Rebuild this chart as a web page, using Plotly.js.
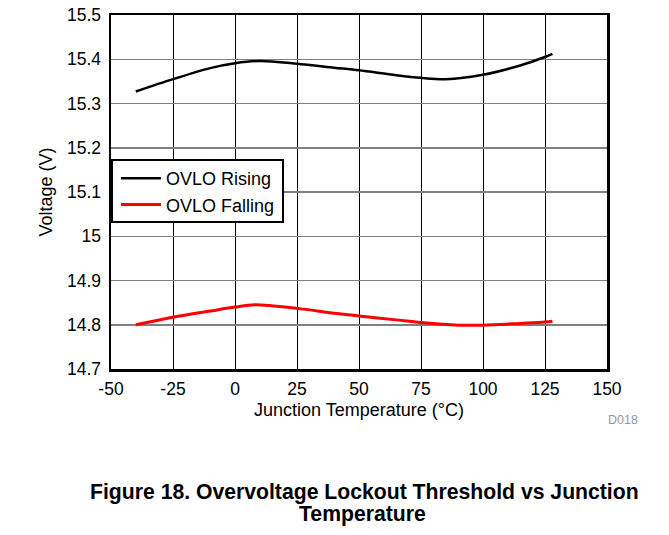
<!DOCTYPE html>
<html>
<head>
<meta charset="utf-8">
<script src="https://cdn.plot.ly/plotly-3.0.1.min.js"></script>
<style>html,body{margin:0;padding:0;background:#fff;}#chart{width:669px;height:535px;}</style>
</head>
<body>
<div id="chart"></div>
<script>
// Data
const tempRising = [-40, -25, -10, 0, 10, 25, 40, 50, 65, 75, 85, 100, 115, 125, 128];
const voltRising = [15.327, 15.355, 15.380, 15.391, 15.396, 15.390, 15.381, 15.375, 15.364, 15.358, 15.355, 15.365, 15.386, 15.405, 15.412];
const tempFalling = [-40, -25, -10, 0, 8, 25, 40, 50, 65, 75, 90, 100, 115, 125, 128];
const voltFalling = [14.800, 14.817, 14.831, 14.840, 14.845, 14.837, 14.826, 14.820, 14.811, 14.805, 14.799, 14.799, 14.803, 14.806, 14.808];
const seriesNames = ["OVLO Rising", "OVLO Falling"];
const xTicks = [-50, -25, 0, 25, 50, 75, 100, 125, 150];
const yTicks = [14.7, 14.8, 14.9, 15, 15.1, 15.2, 15.3, 15.4, 15.5];
const xTitle = "Junction Temperature (°C)";
const yTitle = "Voltage (V)";
const figTitle1 = "Figure 18. Overvoltage Lockout Threshold vs Junction";
const figTitle2 = "Temperature";
const figId = "D018";

const FONT = "Liberation Sans, Arial, Helvetica, sans-serif";

const traces = [
  {x: tempRising, y: voltRising, name: seriesNames[0], mode: "lines",
   line: {color: "#000000", width: 2.5, shape: "spline", smoothing: 0.9}},
  {x: tempFalling, y: voltFalling, name: seriesNames[1], mode: "lines",
   line: {color: "#ff0000", width: 3, shape: "spline", smoothing: 0.9}}
];

const L = 111, R = 62, T = 15, B = 166;
const W = 669, H = 535;
const pw = W - L - R, ph = H - T - B;
const px = v => (v - L) / pw;
const py = v => (H - B - v) / ph;

const layout = {
  width: W, height: H,
  margin: {l: L, r: R, t: T, b: B, pad: 0},
  paper_bgcolor: "#ffffff", plot_bgcolor: "#ffffff",
  font: {family: FONT, size: 18, color: "#000"},
  showlegend: true,
  legend: {x: px(116), y: py(160), xanchor: "left", yanchor: "top",
           bgcolor: "rgba(0,0,0,0)", borderwidth: 0, font: {family: FONT, size: 18, color: "#000"},
           itemwidth: 40, tracegroupgap: 0},
  xaxis: {range: [-50, 150], tickvals: xTicks, ticktext: xTicks.map(String),
          showgrid: true, gridcolor: "#000000", gridwidth: 1,
          zeroline: false, showline: true, linecolor: "#000", linewidth: 2.5, mirror: true,
          ticks: "outside", ticklen: 2, tickcolor: "rgba(0,0,0,0)",
          tickfont: {family: FONT, size: 17.5, color: "#000"},
          title: {text: xTitle, font: {family: FONT, size: 18, color: "#000"}, standoff: 6}},
  yaxis: {range: [14.7, 15.5], tickvals: yTicks, ticktext: yTicks.map(v => String(v)),
          showgrid: true, gridcolor: "#808080", gridwidth: 1.5,
          zeroline: false, showline: true, linecolor: "#000", linewidth: 2.5, mirror: true,
          ticks: "outside", ticklen: 4, tickcolor: "rgba(0,0,0,0)",
          tickfont: {family: FONT, size: 17.5, color: "#000"},
          title: {text: yTitle, font: {family: FONT, size: 18, color: "#000"}, standoff: 10}},
  shapes: [
    {type: "rect", xref: "paper", yref: "paper", layer: "above",
     x0: px(112), x1: px(283), y0: py(222), y1: py(160),
     fillcolor: "#ffffff", line: {color: "#000", width: 2}}
  ],
  annotations: [
    {text: "<b>" + figTitle1 + "</b>", xref: "paper", yref: "paper", x: px(364), y: py(492),
     xanchor: "center", yanchor: "middle", showarrow: false, font: {family: FONT, size: 21.2, color: "#000"}},
    {text: "<b>" + figTitle2 + "</b>", xref: "paper", yref: "paper", x: px(362), y: py(514),
     xanchor: "center", yanchor: "middle", showarrow: false, font: {family: FONT, size: 21.2, color: "#000"}},
    {text: figId, xref: "paper", yref: "paper", x: px(623), y: py(420),
     xanchor: "center", yanchor: "middle", showarrow: false, font: {family: FONT, size: 12.5, color: "#999999"}}
  ]
};

Plotly.newPlot("chart", traces, layout, {staticPlot: true, displayModeBar: false});
</script>
</body>
</html>
